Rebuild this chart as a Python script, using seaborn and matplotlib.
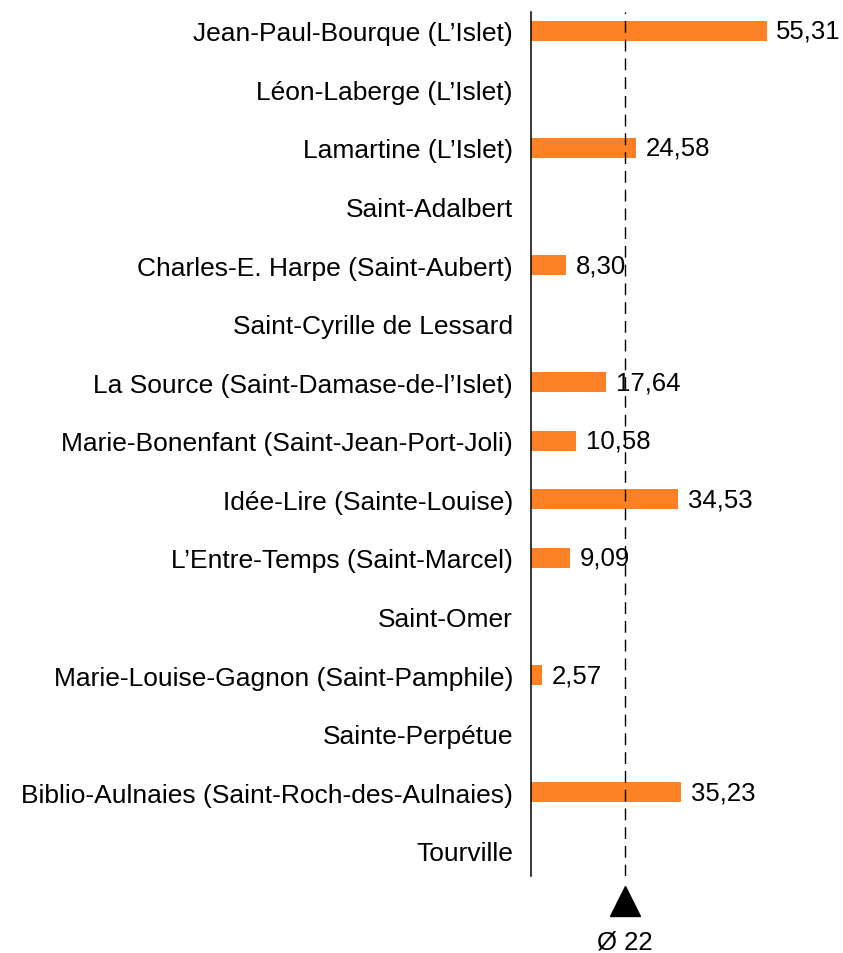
import numpy as np
import pandas as pd
import matplotlib
matplotlib.use('Agg')
import matplotlib.pyplot as plt
import seaborn as sns

bibliotheques = [
    "Jean-Paul-Bourque (L’Islet)",
    "Léon-Laberge (L’Islet)",
    "Lamartine (L’Islet)",
    "Saint-Adalbert",
    "Charles-E. Harpe (Saint-Aubert)",
    "Saint-Cyrille de Lessard",
    "La Source (Saint-Damase-de-l’Islet)",
    "Marie-Bonenfant (Saint-Jean-Port-Joli)",
    "Idée-Lire (Sainte-Louise)",
    "L’Entre-Temps (Saint-Marcel)",
    "Saint-Omer",
    "Marie-Louise-Gagnon (Saint-Pamphile)",
    "Sainte-Perpétue",
    "Biblio-Aulnaies (Saint-Roch-des-Aulnaies)",
    "Tourville",
]
valeurs = [55.31, np.nan, 24.58, np.nan, 8.30, np.nan, 17.64, 10.58,
           34.53, 9.09, np.nan, 2.57, np.nan, 35.23, np.nan]
moyenne = 22

df = pd.DataFrame({'Bibliotheque': bibliotheques, 'Valeur': valeurs})
df['Barre'] = df['Valeur'].fillna(0)

sns.set_style('white')
plt.rcParams['font.family'] = ['Liberation Sans', 'DejaVu Sans']
plt.rcParams['text.color'] = 'black'
plt.rcParams['ytick.color'] = 'black'

fig = plt.figure(figsize=(8.43, 9.54), dpi=100)
ax = fig.add_axes([531 / 843, 1 - 877 / 954, 1 - 531 / 843, (877 - 13) / 954])

sns.barplot(data=df, x='Barre', y='Bibliotheque', color='#FF8126',
            saturation=1, width=0.34, linewidth=0, orient='h', ax=ax)

labels = ['' if np.isnan(v) else f'{v:.2f}'.replace('.', ',') for v in valeurs]
ax.bar_label(ax.containers[0], labels=labels, padding=7, fontsize=18.5,
             color='black')

ax.set_xlim(0, (843 - 531) / 4.26)
ax.set_ylim(14.43, -0.32)
ax.axvline(moyenne, color='black', lw=1, linestyle=(0, (8.5, 5)))

# marqueur de la moyenne sous l'axe
ax.plot([moyenne], [14.85], marker='^', markersize=21, color='black',
        clip_on=False)
ax.text(moyenne, 15.55, f'Ø {moyenne}', ha='center', va='center',
        fontsize=18.5, color='black', clip_on=False)

for s in ['top', 'right', 'bottom']:
    ax.spines[s].set_visible(False)
ax.spines['left'].set_color('black')
ax.spines['left'].set_linewidth(1.1)
ax.set_xticks([])
ax.set_xlabel('')
ax.set_ylabel('')
ax.tick_params(axis='y', length=0, pad=13, labelsize=19, labelcolor='black')

fig.savefig('out.png', dpi=100)
plt.close()
